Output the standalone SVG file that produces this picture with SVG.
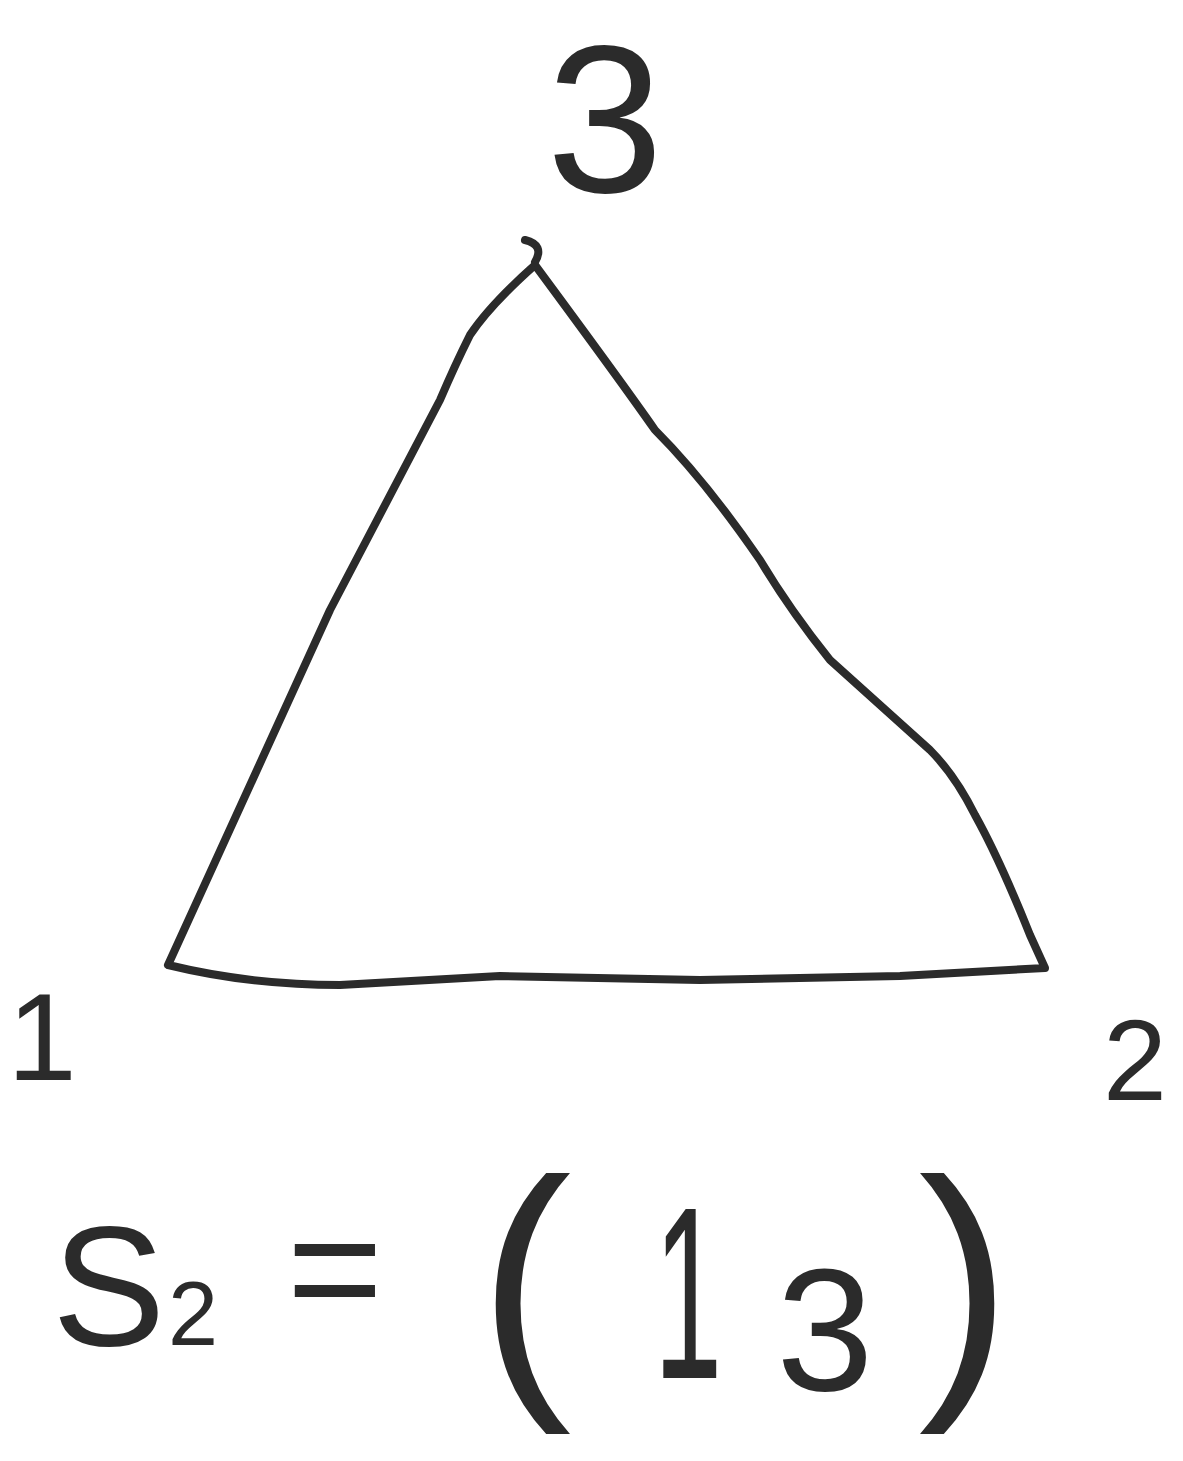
<svg xmlns="http://www.w3.org/2000/svg" width="1183" height="1461" viewBox="0 0 1183 1461">
<style>
.ln{fill:none;stroke:#2b2b2b;stroke-width:8;stroke-linecap:round;stroke-linejoin:round}
.t{font-family:"Liberation Sans","DejaVu Sans",sans-serif;fill:#2b2b2b}
</style>
<rect width="1183" height="1461" fill="#ffffff"/>
<g id="triangle">
<path class="ln" d="M535,265 Q490,305 470,335 Q455,365 440,400 L330,610 L168,965 Q250,985 340,985 L500,976 L700,980 L900,976 L1045,968 L1030,935 Q1000,860 975,815 Q955,775 930,750 Q880,705 830,660 Q790,610 760,560 Q705,480 655,430 Q620,380 535,265 Z"/>
<path class="ln" d="M525,240 Q545,245 535,262"/>
</g>
<g id="label-3"><text class="t" x="605" y="192" font-size="210" text-anchor="middle">3</text></g>
<g id="label-1"><text class="t" x="42" y="1080" font-size="125" text-anchor="middle">1</text></g>
<g id="label-2"><text class="t" x="1135" y="1100" font-size="115" text-anchor="middle">2</text></g>
<g id="formula">
<text class="t" x="52" y="1345" font-size="170">S</text>
<text class="t" x="168" y="1345" font-size="90">2</text>
<text class="t" x="335" y="1325" font-size="165" text-anchor="middle">=</text>
<text class="t" x="525" y="1376" font-size="280" text-anchor="middle">(</text>
<text class="t" transform="translate(688,1378) scale(0.5,1)" font-size="245" text-anchor="middle">1</text>
<text class="t" x="825" y="1390" font-size="175" text-anchor="middle">3</text>
<text class="t" x="965" y="1376" font-size="280" text-anchor="middle">)</text>
</g>
</svg>
